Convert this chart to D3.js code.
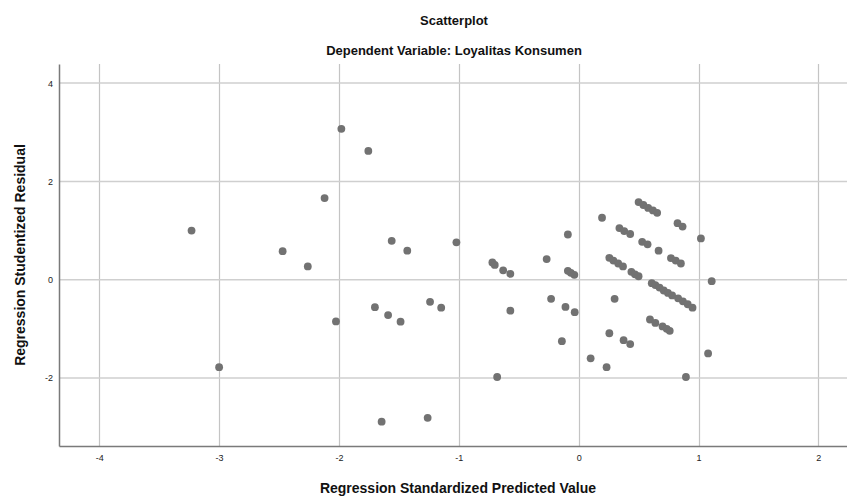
<!DOCTYPE html>
<html>
<head>
<meta charset="utf-8">
<script src="https://cdn.jsdelivr.net/npm/d3@7"></script>
<style>
  body { margin: 0; background: #fff; }
  svg { font-family: "Liberation Sans", Arial, sans-serif; }
</style>
</head>
<body>
<div id="chart"></div>
<script>
// Regression Standardized Predicted Value
const predicted = [
  -3.23, -3.00, -2.47, -2.26, -2.12, -2.025, -1.98, -1.755, -1.70, -1.644,
  -1.59, -1.56, -1.486, -1.43, -1.26, -1.24, -1.147, -1.02,
  -0.72, -0.70, -0.68, -0.63, -0.57, -0.57, -0.267, -0.23, -0.14, -0.11,
  -0.09, -0.09, -0.065, -0.036, -0.033,
  0.10, 0.195, 0.233, 0.256, 0.256, 0.29, 0.33, 0.37, 0.30, 0.34,
  0.38, 0.43, 0.375, 0.43, 0.44, 0.47, 0.50, 0.50, 0.54, 0.58,
  0.62, 0.655, 0.53, 0.575, 0.595, 0.64, 0.70, 0.735, 0.76, 0.61,
  0.64, 0.675, 0.71, 0.745, 0.78, 0.83, 0.87, 0.91, 0.95, 0.667,
  0.77, 0.81, 0.853, 0.825, 0.867, 0.895, 1.02, 1.08, 1.11
];
// Regression Studentized Residual
const residual = [
  1.00, -1.78, 0.58, 0.27, 1.66, -0.85, 3.07, 2.62, -0.56, -2.89,
  -0.72, 0.79, -0.855, 0.59, -2.81, -0.45, -0.57, 0.76,
  0.35, 0.30, -1.98, 0.19, 0.12, -0.63, 0.42, -0.39, -1.25, -0.555,
  0.92, 0.18, 0.14, 0.10, -0.66,
  -1.60, 1.26, -1.78, -1.09, 0.445, 0.39, 0.33, 0.27, -0.39, 1.05,
  0.99, 0.93, -1.23, -1.31, 0.16, 0.11, 0.07, 1.58, 1.52, 1.46,
  1.41, 1.36, 0.77, 0.72, -0.81, -0.88, -0.95, -1.00, -1.04, -0.07,
  -0.11, -0.16, -0.22, -0.27, -0.32, -0.38, -0.44, -0.50, -0.57, 0.59,
  0.44, 0.39, 0.33, 1.15, 1.08, -1.98, 0.84, -1.50, -0.03
];
const xTicks = [-4, -3, -2, -1, 0, 1, 2];
const yTicks = [-2, 0, 2, 4];

const W = 847, H = 496;
const plot = { left: 59, right: 847, top: 64, bottom: 446 };

const svg = d3.select('#chart').append('svg')
  .attr('width', W)
  .attr('height', H);

const x = d3.scaleLinear().domain([-4.336, 2.239]).range([plot.left, plot.right]);
const y = d3.scaleLinear().domain([-3.384, 4.389]).range([plot.bottom, plot.top]);

// grid
svg.append('g')
  .selectAll('line')
  .data(xTicks)
  .enter()
  .append('line')
  .attr('x1', d => Math.round(x(d)) + 0.5)
  .attr('x2', d => Math.round(x(d)) + 0.5)
  .attr('y1', plot.top)
  .attr('y2', plot.bottom)
  .attr('stroke', '#c4c4c4')
  .attr('stroke-width', 1.2);

svg.append('g')
  .selectAll('line')
  .data(yTicks)
  .enter()
  .append('line')
  .attr('x1', plot.left)
  .attr('x2', plot.right)
  .attr('y1', d => y(d))
  .attr('y2', d => y(d))
  .attr('stroke', '#cfcfcf')
  .attr('stroke-width', 1.5);

// axes (plain hyphen for negatives, like the original)
const fmt = d => String(d);

const xAxis = svg.append('g')
  .attr('transform', `translate(0,${plot.bottom})`)
  .call(d3.axisBottom(x).tickValues(xTicks).tickSize(0).tickPadding(9).tickFormat(fmt));
xAxis.select('.domain').attr('stroke', '#7a7a7a').attr('stroke-width', 1.5);
xAxis.selectAll('text').attr('font-size', '9px').attr('fill', '#222')
  .attr('font-family', '"Liberation Sans", Arial, sans-serif');

const yAxis = svg.append('g')
  .attr('transform', `translate(${plot.left},0)`)
  .call(d3.axisLeft(y).tickValues(yTicks).tickSize(0).tickPadding(6).tickFormat(fmt));
yAxis.select('.domain').attr('stroke', '#7a7a7a').attr('stroke-width', 1.5);
yAxis.selectAll('text').attr('font-size', '9px').attr('fill', '#222')
  .attr('font-family', '"Liberation Sans", Arial, sans-serif');

// points
svg.append('g')
  .selectAll('circle')
  .data(predicted.map((p, i) => [p, residual[i]]))
  .enter()
  .append('circle')
  .attr('cx', d => x(d[0]))
  .attr('cy', d => y(d[1]))
  .attr('r', 3.9)
  .attr('fill', '#727272');

// titles
svg.append('text')
  .attr('x', 454)
  .attr('y', 25)
  .attr('text-anchor', 'middle')
  .attr('font-size', '13px')
  .attr('font-weight', 'bold')
  .attr('fill', '#111')
  .text('Scatterplot');

svg.append('text')
  .attr('x', 454)
  .attr('y', 55)
  .attr('text-anchor', 'middle')
  .attr('font-size', '13px')
  .attr('font-weight', 'bold')
  .attr('fill', '#111')
  .text('Dependent Variable: Loyalitas Konsumen');

svg.append('text')
  .attr('x', 458)
  .attr('y', 493)
  .attr('text-anchor', 'middle')
  .attr('font-size', '14px')
  .attr('font-weight', 'bold')
  .attr('fill', '#111')
  .text('Regression Standardized Predicted Value');

svg.append('text')
  .attr('transform', `translate(25,${(plot.top + plot.bottom) / 2}) rotate(-90)`)
  .attr('text-anchor', 'middle')
  .attr('font-size', '14px')
  .attr('font-weight', 'bold')
  .attr('fill', '#111')
  .text('Regression Studentized Residual');
</script>
</body>
</html>
